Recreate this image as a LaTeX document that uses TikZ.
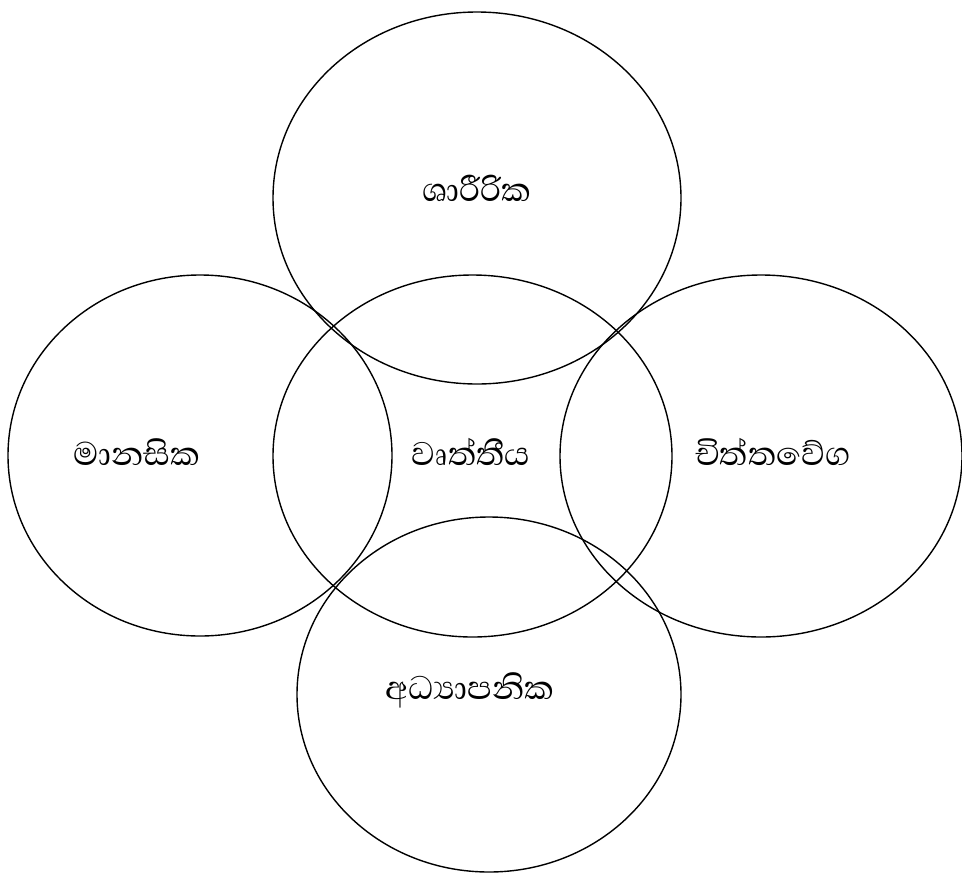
\documentclass[tikz,border=0pt]{standalone}
\usepackage{fontspec}
\newfontfamily\sinhala[Script=Sinhala]{Abhaya Libre}
\usetikzlibrary{shapes.geometric}
\begin{document}
\begin{tikzpicture}[x=1pt,y=-1pt,
  circ/.style={draw=black,line width=1.4pt,ellipse,inner sep=0pt,fill=none},
  lbl/.style={font=\sinhala\fontsize{42}{48}\selectfont,inner sep=0pt}]
\useasboundingbox (0,0) rectangle (962,873);
\node[circ,minimum width=408pt,minimum height=372pt] (top) at (477,198) {};
\node[circ,minimum width=384pt,minimum height=361pt] (left) at (200,455.5) {};
\node[circ,minimum width=399pt,minimum height=362pt] (mid) at (472.5,456) {};
\node[circ,minimum width=402pt,minimum height=362pt] (right) at (761,456) {};
\node[circ,minimum width=384pt,minimum height=355pt] (bottom) at (489,694.5) {};
\node[lbl] (t1) at (477,188) {ශාරීරික};
\node[lbl] (t2) at (137,452) {මානසික};
\node[lbl] (t3) at (471,452) {වෘත්තීය};
\node[lbl] (t4) at (773,452) {චිත්තවේග};
\node[lbl] (t5) at (470,690) {අධ්^^^^200dයාපනික};
\end{tikzpicture}
\end{document}
